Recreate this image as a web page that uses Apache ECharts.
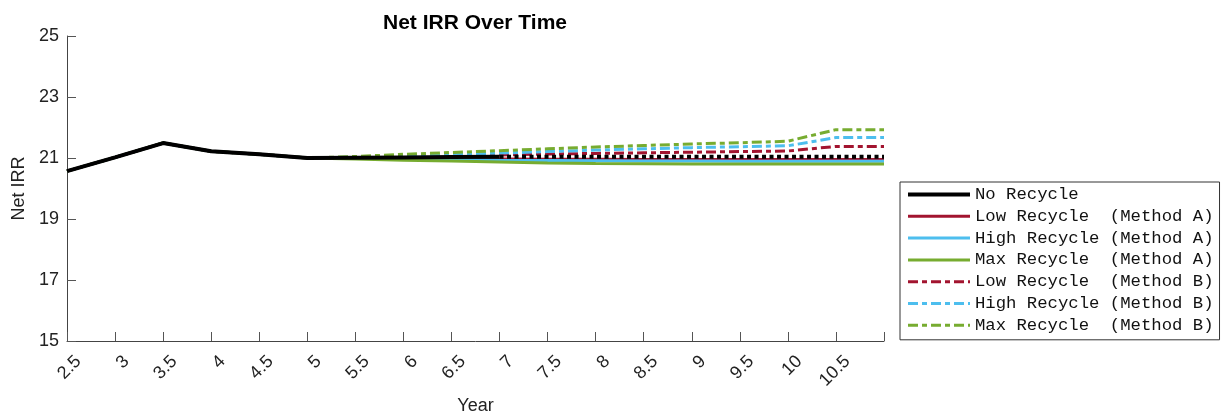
<!DOCTYPE html>
<html>
<head>
<meta charset="utf-8">
<script src="https://cdn.jsdelivr.net/npm/echarts@6/dist/echarts.min.js"></script>
<style>html,body{margin:0;padding:0;background:#fff}#c{width:1225px;height:418px}</style>
</head>
<body>
<div id="c"></div>
<script>
const years = [2.5, 3, 3.5, 4, 4.5, 5, 5.5, 6, 6.5, 7, 7.5, 8, 8.5, 9, 9.5, 10, 10.5, 11];
const noRecycle   = [20.57, 21.02, 21.49, 21.22, 21.12, 21.0, 21.01, 21.02, 21.03, 21.04, 21.04, 21.04, 21.04, 21.04, 21.04, 21.04, 21.04, 21.04];
const lowA        = [20.57, 21.02, 21.49, 21.22, 21.12, 21.0, 21.0, 20.99, 20.98, 20.97, 20.96, 20.96, 20.95, 20.95, 20.95, 20.95, 20.95, 20.95];
const highA       = [20.57, 21.02, 21.49, 21.22, 21.12, 21.0, 20.99, 20.97, 20.95, 20.93, 20.92, 20.91, 20.9, 20.9, 20.89, 20.89, 20.89, 20.89];
const maxA        = [20.57, 21.02, 21.49, 21.22, 21.12, 21.0, 20.97, 20.93, 20.9, 20.87, 20.84, 20.82, 20.81, 20.8, 20.8, 20.8, 20.8, 20.8];
const lowB        = [20.57, 21.02, 21.49, 21.22, 21.12, 21.0, 21.02, 21.04, 21.07, 21.1, 21.13, 21.15, 21.17, 21.19, 21.21, 21.23, 21.38, 21.38];
const highB       = [20.57, 21.02, 21.49, 21.22, 21.12, 21.0, 21.03, 21.07, 21.12, 21.16, 21.21, 21.26, 21.3, 21.34, 21.37, 21.4, 21.67, 21.67];
const maxB        = [20.57, 21.02, 21.49, 21.22, 21.12, 21.0, 21.05, 21.12, 21.18, 21.24, 21.3, 21.36, 21.41, 21.46, 21.5, 21.55, 21.93, 21.93];
const solidUntil = 7;
const names = ['No Recycle', 'Low Recycle  (Method A)', 'High Recycle (Method A)', 'Max Recycle  (Method A)',
               'Low Recycle  (Method B)', 'High Recycle (Method B)', 'Max Recycle  (Method B)'];
const yTicks = { min: 15, max: 25, interval: 2 };
const xTicks = { min: 2.5, max: 11, interval: 0.5 };

const RED = '#A2142F', BLUE = '#4DBEEE', GREEN = '#77AC30';
const DASHDOT = [10, 4, 5, 4];
const pts = arr => years.map((x, i) => [x, arr[i]]);

function line(name, arr, color, type, width, z) {
  return { name, type: 'line', data: pts(arr), showSymbol: false, symbol: 'none',
    lineStyle: { color, width, type, cap: 'butt' }, itemStyle: { color }, z, animation: false };
}

const chart = echarts.init(document.getElementById('c'), null, { renderer: 'canvas' });
chart.setOption({
  backgroundColor: '#fff',
  animation: false,
  title: { text: 'Net IRR Over Time', left: 470, textAlign: 'center', top: 8,
    textStyle: { fontFamily: 'Liberation Sans', fontWeight: 'bold', fontSize: 21, color: '#000' } },
  grid: { left: 67, right: 341, top: 36, bottom: 77, containLabel: false, outerBoundsMode: 'none' },
  legend: {
    data: names.map((n, i) => ({ name: n, lineStyle: { width: i === 0 ? 4 : 3 } })),
    orient: 'vertical', left: 900, top: 182, padding: [4, 6, 6, 6],
    itemWidth: 62, itemHeight: 14, itemGap: 4.8, borderColor: '#333', borderWidth: 1,
    backgroundColor: '#fff', selectedMode: false,
    itemStyle: { opacity: 0 },
    lineStyle: { width: 3 },
    textStyle: { fontFamily: 'Liberation Mono', fontSize: 17.3, color: '#111' }
  },
  xAxis: {
    type: 'value', min: xTicks.min, max: xTicks.max, interval: xTicks.interval,
    name: 'Year', nameLocation: 'middle', nameGap: 55,
    nameTextStyle: { fontFamily: 'Liberation Sans', fontSize: 18, color: '#222' },
    axisLine: { lineStyle: { color: '#444', width: 1 } },
    axisTick: { inside: true, length: 9, lineStyle: { color: '#555' } },
    splitLine: { show: false },
    axisLabel: { rotate: 45, margin: 29, align: 'right', verticalAlign: 'middle', padding: [0, -16, 0, 0],
      fontFamily: 'Liberation Sans', fontSize: 18, color: '#222',
      formatter: v => (v >= xTicks.max ? '' : String(v)) }
  },
  yAxis: {
    type: 'value', min: yTicks.min, max: yTicks.max, interval: yTicks.interval,
    name: 'Net IRR', nameLocation: 'middle', nameGap: 33, nameRotate: 90,
    nameTextStyle: { fontFamily: 'Liberation Sans', fontSize: 18, color: '#222' },
    axisLine: { show: true, lineStyle: { color: '#444', width: 1 } },
    axisTick: { show: true, inside: true, length: 9, lineStyle: { color: '#555' } },
    splitLine: { show: false },
    axisLabel: { margin: 8, fontFamily: 'Liberation Sans', fontSize: 18, color: '#222' }
  },
  series: [
    Object.assign(line(names[0], noRecycle, '#000', 'solid', 4, 10), {
      data: pts(noRecycle).filter(p => p[0] <= solidUntil)
    }),
    line(names[1], lowA, RED, 'solid', 3, 2),
    line(names[2], highA, BLUE, 'solid', 3, 2),
    line(names[3], maxA, GREEN, 'solid', 3, 2),
    line(names[4], lowB, RED, DASHDOT, 3, 3),
    line(names[5], highB, BLUE, DASHDOT, 3, 3),
    line(names[6], maxB, GREEN, DASHDOT, 3, 3),
    Object.assign(line('No Recycle (ext)', noRecycle, '#000', [4, 3.5], 4, 10), {
      data: pts(noRecycle).filter(p => p[0] >= solidUntil)
    })
  ]
});
</script>
</body>
</html>
